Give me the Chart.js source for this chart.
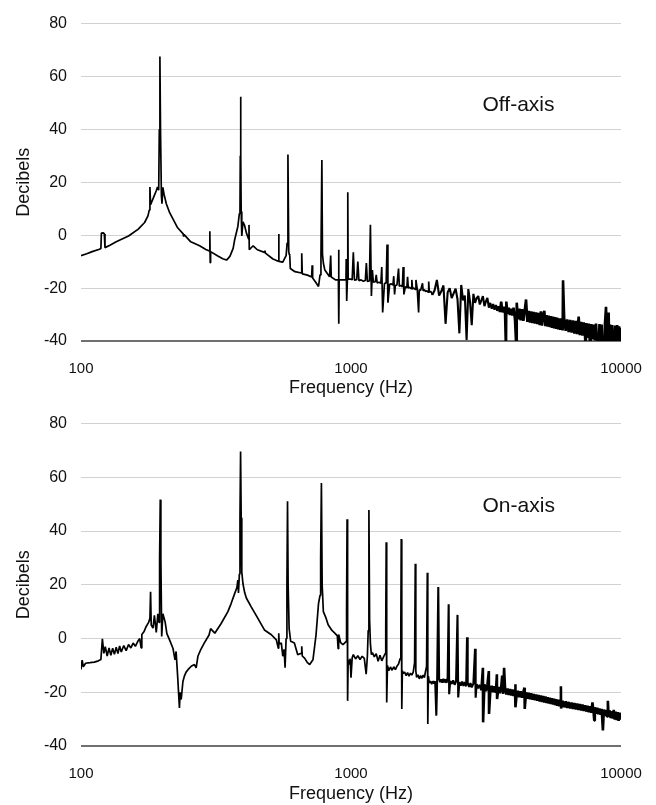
<!DOCTYPE html>
<html>
<head>
<meta charset="utf-8">
<script src="https://cdn.jsdelivr.net/npm/chart.js@4.4.1/dist/chart.umd.min.js"></script>
<style>
  html, body { margin: 0; padding: 0; background: #fff; }
  #wrap { position: relative; width: 656px; height: 805px; }
  canvas { position: absolute; left: 0; }
  #offChart { top: 0; }
  #onChart { top: 400px; }
</style>
</head>
<body>
<div id="wrap">
  <canvas id="offChart" width="656" height="400"></canvas>
  <canvas id="onChart" width="656" height="405"></canvas>
</div>
<script>
// tick labels
const freqTicks = [100, 1000, 10000];
const dbTicks = [-40, -20, 0, 20, 40, 60, 80];

// panel labels, placed in data units
const labelFreq = 3070;
const labelDb = 49.3;

// off-axis spectrum, [Hz, dB]
const offAxisLow = [
  [100,-7.7],[105,-7.0],[110,-6.2],[117,-5.3],[118.5,-5.0],[119,0.8],[121,0.9],[122,0.5],[122.7,-4.7],
  [128,-3.8],[135,-2.5],[150,-0.3],[163,2.3],[172,4.8],[177,7.3],[179,9.5],[180,18.2],[181,11.5],
  [186,14.5],[190,16.8],[192,18.2],[194,17],[195,40],[196,67.6],[197,40],[198.5,15],[199.5,11.9],
  [201,18.1],[203,15.5],[207,11.9],[213,8.5],[219.5,6.0],[228,2.8],[239,0.5],[240,-0.5],[241,0.2],
  [255,-2.5],[275,-4.0],[290,-5.4],[299,-6.0],[300,1.5],[301,-10.4],[302,-6.2],[320,-7.8],[335,-8.9],
  [346,-9.4],[356,-8.0],[366,-5.0],[371,-1.6],[381,3.3],[386,8.2],[388,9.5],[389,30],[390,52.3],
  [391,30],[392,9],[394,-0.3],[398,5.1],[404,3.5],[410,0.8],[418,-1.5],[419,3.9],[420,-5.5],
  [434,-4.0],[450,-5.5],[478,-6.5],[480,-5.8],[482,-6.8],[514,-9.0],[530,-9.6],[539,-9.8],[540,0.5],
  [541,-9.9],[559,-10.2],[568,-8.8],[575,-7.7],[580,-3],[584,30.5],[588,-6],[590,-7.1],[593,-7.5],
  [596,-12.6],[620,-13.8],[655,-14.3],[657,-6.8],[660,-14.6],[690,-15.1],[715,-15.8],[718,-11.4],
  [721,-16.2],[740,-17.8],[758,-19.4],[768,-15],[774,-8],[780,28.4],[784,-7.1],[790,-10.5],
  [800,-13.2],[833,-15.7],[841,-7.7],[845,-15.8],[876,-16.9],[898,-16.9],[900,-5.5],[902,-33.5],
  [904,-16.9],[934,-16.9],[958,-16.8],[960,-9],[963,-16.5],[965,-24.9],[970,-16.5],[973,16.2],
  [976,-16.5],[990,-16.6]
];
const offAxisMid = [
  [1000,-16.6],[1010,-16.9],[1020,-6.5],[1030,-17.0],[1050,-16.8],[1060,-10],[1070,-17.2],[1090,-16.9],
  [1110,-17.4],[1130,-17.1],[1140,-10.5],[1150,-17.5],[1170,-17.3],[1180,3.9],[1190,-23],[1200,-13.2],
  [1210,-17.8],[1230,-17.6],[1240,-15],[1250,-18.0],[1270,-17.8],[1290,-18.2],[1300,-12],[1310,-29.2],
  [1330,-18.3],[1350,-18.0],[1360,-3.5],[1370,-25.5],[1390,-18.6],[1410,-18.4],[1430,-18.9],
  [1440,-15.5],[1450,-22.4],[1460,-19.0],[1480,-18.8],[1500,-12.6],[1510,-19.3],[1530,-19.0],
  [1550,-19.5],[1560,-12],[1570,-22.4],[1590,-19.5],[1610,-19.9],[1620,-15.7],[1630,-20.0],
  [1650,-19.7],[1670,-20.2],[1680,-16.9],[1690,-20.3],[1710,-20.0],[1730,-20.5],[1740,-16.9],
  [1760,-20.6],[1780,-29.2],[1790,-20.6],[1810,-20.9],[1840,-18.2],[1850,-21.0],[1870,-20.6],
  [1890,-21.3],[1910,-21.0],[1930,-21.5],[1940,-17.5],[1950,-21.6],[1970,-21.2],[1990,-21.8]
];
const offAxisHigh = [
  [2000,-22.6],[2040,-20.8],[2080,-16.9],[2120,-22.8],[2160,-21.2],[2200,-19],[2240,-33.5],[2280,-21.6],
  [2320,-20.0],[2360,-23.8],[2400,-22.0],[2440,-20.2],[2480,-24.2],[2520,-37.1],[2560,-18.8],[2600,-24.6],
  [2640,-22.8],[2680,-39.6],[2720,-20.4],[2760,-25.2],[2800,-34],[2840,-22.2],[2880,-25.6],[2920,-23.8],
  [2960,-23],[3000,-26.2],[3040,-24.6],[3080,-23],[3120,-26.8],[3160,-25.0],[3200,-23.7],[3240,-27.4],
  [3280,-25.6],[3320,-27.8],[3360,-26.0],[3400,-28.2],[3440,-26.4],[3480,-28.6],[3520,-26.8],
  [3560,-29.0],[3600,-25.1],[3640,-29.2],[3680,-27.0],[3720,-29.6],[3750,-44],[3760,-25.1],
  [3800,-29.8],[3840,-27.4],[3880,-30.2],[3920,-27.8],[3960,-30.4],
  [4000,-27.4],[4050,-32.0],[4100,-44],[4110,-25.5],[4150,-31.8],[4200,-27.8],[4250,-32.2],[4300,-28.0],
  [4350,-32.4],[4400,-28.4],[4450,-24.3],[4500,-32.8],[4550,-28.6],[4600,-33.0],[4650,-28.8],
  [4700,-33.2],[4750,-29.0],[4800,-33.4],[4850,-29.2],[4900,-33.6],[4950,-29.4],[5000,-34.0],
  [5050,-28.8],[5100,-34.2],[5150,-30.0],[5200,-28.6],[5250,-34.4],[5300,-30.2],[5350,-34.6],
  [5400,-30.4],[5450,-34.8],[5500,-30.6],[5550,-35.0],[5600,-30.8],[5650,-35.2],[5700,-31.0],
  [5750,-35.4],[5800,-31.2],[5850,-35.6],[5900,-31.4],[5950,-35.8],
  [6000,-31.4],[6080,-36.0],[6100,-17],[6160,-31.6],[6240,-36.2],[6320,-31.8],[6400,-36.6],[6480,-32.0],
  [6560,-36.8],[6640,-32.2],[6720,-37.2],[6800,-32.4],[6880,-37.4],[6970,-30.8],[7040,-37.8],
  [7120,-32.8],[7200,-38.0],[7280,-33.0],[7360,-38.4],[7400,-44],[7440,-33.2],[7520,-38.8],
  [7600,-33.4],[7700,-44],[7760,-33.6],[7840,-39.4],[7920,-33.8],[8000,-39.8],[8080,-33.4],
  [8160,-40.5],[8270,-44],[8320,-33.6],[8400,-40.5],[8480,-33.8],[8560,-41],[8680,-44],[8720,-33.6],
  [8800,-27.1],[8880,-41],[8960,-34.0],[9000,-29.2],[9040,-41],[9120,-33.8],[9200,-41.5],[9280,-34.0],
  [9360,-42],[9450,-44],[9520,-34.2],[9600,-42],[9680,-34.0],[9760,-42],[9840,-34.4],[9920,-42],
  [10000,-35]
];

// on-axis spectrum, [Hz, dB]
const onAxisLow = [
  [100,-11.5],[101,-8],[102,-10.5],[104,-9.2],[108,-9.0],[112,-8.8],[116,-8.3],[118.5,-7.8],[120,-0.1],
  [121.5,-5.5],[123,-3.0],[125,-6.5],[127,-3.5],[129,-6.2],[131,-3.6],[133,-5.9],[135,-3.2],[137,-5.6],
  [139,-2.8],[141,-5.0],[144,-2.6],[147,-4.5],[150,-2.2],[153,-3.5],[156,-1.7],[159,-2.9],[162,-1.2],
  [165,0],[167,-3.5],[168,1.5],[171,2.5],[174.4,4.5],[178,6],[180,7.5],[181,17.4],[182,5],[184.8,3.9],
  [187,8.6],[190,2.3],[192.6,9.2],[194.5,6],[195.5,30],[196.6,51.7],[197.6,30],[199,0.8],[201,9.2],
  [205,6.1],[208,1.8],[213,-0.6],[219,-3.6],[223,-7.9],[225,-4.8],[228,-14],[231.5,-25.8],[233,-20],
  [235,-22.7],[238.5,-16],[241.5,-14],[245,-12.5],[249,-11.6],[256,-10.3],[263,-9.7],[267,-10.9],
  [271,-6.6],[278,-4],[286,-1.7],[298,1.3],[302,3.7],[313,2.0],[330,5.5],[350,10],[360,13.1],
  [371,16.8],[378,19],[381,21.7],[383,17],[386,24],[388,45],[390,69.6],[392,45],[394,24.7],[398,20.4],
  [404,17],[410,15],[427,11.8],[452,7.5],[478,3.2],[507,1.4],[529,-0.5],[538,-3.6],[540,2],[542,-2],
  [552,-1.7],[559,-6.6],[565,-4],[570,-10.9],[575,0],[579,20],[582,51.1],[585,20],[590,3.7],[598,-1.1],
  [604,-1.2],[617,-1.7],[635,-6],[655,-5.5],[657,-2.9],[660,-6.5],[673,-7.3],[690,-9],[703,-9.7],
  [723,-7.9],[742,1.3],[758,13],[768,16.1],[772,30],[777,57.9],[782,20],[790,10],[809,7.5],[823,5.1],
  [850,3.0],[871,2],[890,1],[896,-3.8],[900,1.5],[915,-1.5],[934,-2.3],[950,-1.5],[960,-1.1],[963,10],
  [967,44.4],[970,-10],[973,-23.2],[976,-8],[983,-9.7],[993,-7.5]
];
const onAxisMid = [
  [1000,-14.6],[1010,-7.2],[1020,-6.0],[1040,-7.6],[1060,-6.4],[1080,-7.8],[1100,-6.6],[1120,-7.4],
  [1138,-13.3],[1150,-6.5],[1158,3],[1165,47.8],[1172,7],[1180,-2],[1190,-6],[1200,-5.2],[1220,-6.8],
  [1240,-5.6],[1260,-8.5],[1280,-6.2],[1300,-8.3],[1320,-6.8],[1340,-5.5],[1345,3.8],[1350,35.8],
  [1356,-23.8],[1365,-10],[1380,-12],[1400,-10.6],[1420,-11.8],[1440,-10.5],[1460,-11.6],[1480,-10.3],
  [1500,-9.5],[1520,-7.5],[1530,6.3],[1535,37],[1542,-26.2],[1550,-12],[1560,-13],[1580,-12.5],
  [1600,-13.8],[1620,-12.7],[1640,-14],[1660,-12.9],[1680,-13.6],[1700,-12.5],[1720,-9],[1730,27.8],
  [1738,-12],[1750,-14.5],[1770,-13.5],[1790,-15],[1810,-13.8],[1830,-14.8],[1850,-13.6],[1870,-14.5],
  [1890,-12],[1905,-10.4],[1917,24.5],[1925,-31.8],[1935,-14],[1950,-16.5],[1970,-15.8],[1990,-17],
  [2010,-15.8],[2030,-16.8],[2050,-15.9],[2070,-28.7],[2085,-15.5],[2105,19.2],[2120,-15],[2140,-16.2],
  [2160,-15.2],[2180,-16.4],[2200,-15.0],[2220,-16.3],[2240,-15.2],[2260,-16.5],[2280,-14.5],
  [2300,12.8],[2310,-20.7],[2330,-15.8],[2360,-16.9],[2390,-15.6],[2420,-17.2],[2450,-15.9],
  [2480,8.8],[2495,-21.9],[2520,-16.2],[2550,-17.5],[2580,-16],[2610,-17.6],[2640,-16.2],[2670,-17.8],
  [2690,0.5],[2705,-16.5],[2740,-18],[2770,-16.6],[2800,-18.2],[2840,-16.8],[2880,-3.8],[2895,-22],
  [2920,-17],[2960,-18.5],[3000,-17.2]
];
const onAxisHigh = [
  [3040,-19.2],[3080,-10.9],[3085,-31.2],[3120,-17.0],[3160,-19.6],[3200,-17.2],[3240,-12.1],
  [3245,-28.1],[3280,-19.8],[3320,-17.6],[3360,-20.0],[3400,-17.8],[3440,-20.2],[3470,-13.3],
  [3475,-22.5],[3520,-18.0],[3560,-20.4],[3600,-18.2],[3630,-13.8],[3660,-20.6],[3690,-10.9],
  [3720,-18.4],[3760,-20.8],[3800,-18.6],[3840,-21.0],[3880,-18.8],[3920,-21.2],[3960,-19.0],
  [4000,-21.4],[4050,-19.2],[4060,-17],[4070,-25.6],[4100,-21.6],[4150,-19.4],[4200,-21.8],
  [4250,-19.6],[4300,-22.0],[4350,-19.8],[4390,-18.3],[4400,-26.2],[4450,-20.0],[4500,-22.4],
  [4550,-20.2],[4600,-22.6],[4650,-20.4],[4700,-22.8],[4750,-20.6],[4800,-23.0],[4850,-20.8],
  [4900,-23.2],[4950,-21.0],[5000,-23.4],[5050,-21.2],[5100,-23.6],[5150,-21.4],[5200,-23.8],
  [5250,-21.6],[5300,-24.0],[5350,-21.8],[5400,-24.2],[5450,-22.0],[5500,-24.4],[5550,-22.2],
  [5600,-24.6],[5650,-22.4],[5700,-24.8],[5750,-22.6],[5800,-25.0],[5850,-22.8],[5900,-25.2],
  [5950,-23.0],[5990,-17.8],[6000,-26.0],[6080,-23.2],[6160,-25.6],[6240,-23.4],[6320,-25.8],
  [6400,-23.6],[6480,-26.0],[6560,-23.8],[6640,-26.2],[6720,-24.0],[6800,-26.4],[6880,-24.2],
  [6960,-26.6],[7040,-24.4],[7120,-26.8],[7200,-24.6],[7280,-27.0],[7360,-24.8],[7440,-27.2],
  [7520,-25.0],[7600,-27.4],[7680,-25.2],[7760,-27.6],[7840,-23.8],[7920,-27.8],[7960,-30.5],
  [8000,-25.6],[8080,-28.0],[8160,-25.8],[8240,-28.2],[8320,-26.0],[8400,-28.4],[8480,-26.2],
  [8570,-34.2],[8640,-26.4],[8720,-28.8],[8800,-26.6],[8880,-29.0],[8940,-23.2],[9000,-29.2],
  [9080,-26.8],[9160,-29.6],[9240,-27.0],[9320,-29.8],[9400,-26.6],[9480,-30.2],[9560,-27.2],
  [9640,-30.4],[9720,-27.4],[9800,-30.6],[9880,-27.6],[9960,-30.2],[10000,-28.5]
];

Chart.defaults.font.family = '"Liberation Sans", Arial, sans-serif';
Chart.defaults.color = '#111';

const toPoints = (...parts) => parts.flat().map(([x, y]) => ({ x, y }));

// writes "Off-axis" / "On-axis" inside the plot
const panelLabel = text => ({
  id: 'panelLabel',
  afterDatasetsDraw(chart) {
    const { ctx, scales: { x, y } } = chart;
    ctx.save();
    ctx.font = '21px "Liberation Sans", Arial, sans-serif';
    ctx.fillStyle = '#111';
    ctx.textBaseline = 'middle';
    ctx.fillText(text, x.getPixelForValue(labelFreq), y.getPixelForValue(labelDb));
    ctx.restore();
  }
});

// the noisy high end is drawn with a heavier pen so it reads as a dark band
function makeChart(id, points, text, padTop, titlePadBottom, midFrom, bandFrom) {
  return new Chart(document.getElementById(id), {
    type: 'line',
    data: {
      datasets: [{
        data: points,
        borderColor: '#000',
        borderWidth: 1.7,
        borderJoinStyle: 'bevel',
        pointRadius: 0,
        fill: false,
        tension: 0,
        segment: {
          borderWidth: c => c.p0.parsed.x >= bandFrom ? 2.6 : (c.p0.parsed.x >= midFrom ? 2.1 : 1.7)
        }
      }]
    },
    options: {
      responsive: false,
      animation: false,
      parsing: false,
      layout: { padding: { top: padTop, right: 35, left: 0, bottom: 0 } },
      plugins: { legend: { display: false }, tooltip: { enabled: false } },
      scales: {
        x: {
          type: 'logarithmic',
          min: 100,
          max: 10000,
          afterBuildTicks: axis => { axis.ticks = freqTicks.map(v => ({ value: v })); },
          afterFit: axis => { axis.height = 59; },
          ticks: { callback: v => String(v), font: { size: 15 }, padding: 11, maxRotation: 0, autoSkip: false },
          grid: { display: false },
          border: { display: false },
          title: { display: true, text: 'Frequency (Hz)', font: { size: 18 }, padding: { top: 0, bottom: titlePadBottom } }
        },
        y: {
          min: -40,
          max: 80,
          afterBuildTicks: axis => { axis.ticks = dbTicks.map(v => ({ value: v })); },
          afterFit: axis => { axis.width = 81; },
          ticks: { font: { size: 16 }, padding: 14 },
          grid: {
            drawTicks: false,
            color: c => c.tick.value === -40 ? '#707070' : '#d2d2d2',
            lineWidth: c => c.tick.value === -40 ? 2 : 1
          },
          border: { display: false },
          title: { display: true, text: 'Decibels', font: { size: 18 }, padding: { top: 13, bottom: 0 } }
        }
      }
    },
    plugins: [panelLabel(text)]
  });
}

makeChart('offChart', toPoints(offAxisLow, offAxisMid, offAxisHigh), 'Off-axis', 14, 1, 2000, 3500);
makeChart('onChart', toPoints(onAxisLow, onAxisMid, onAxisHigh), 'On-axis', 20, 0, 2000, 3000);
</script>
</body>
</html>
